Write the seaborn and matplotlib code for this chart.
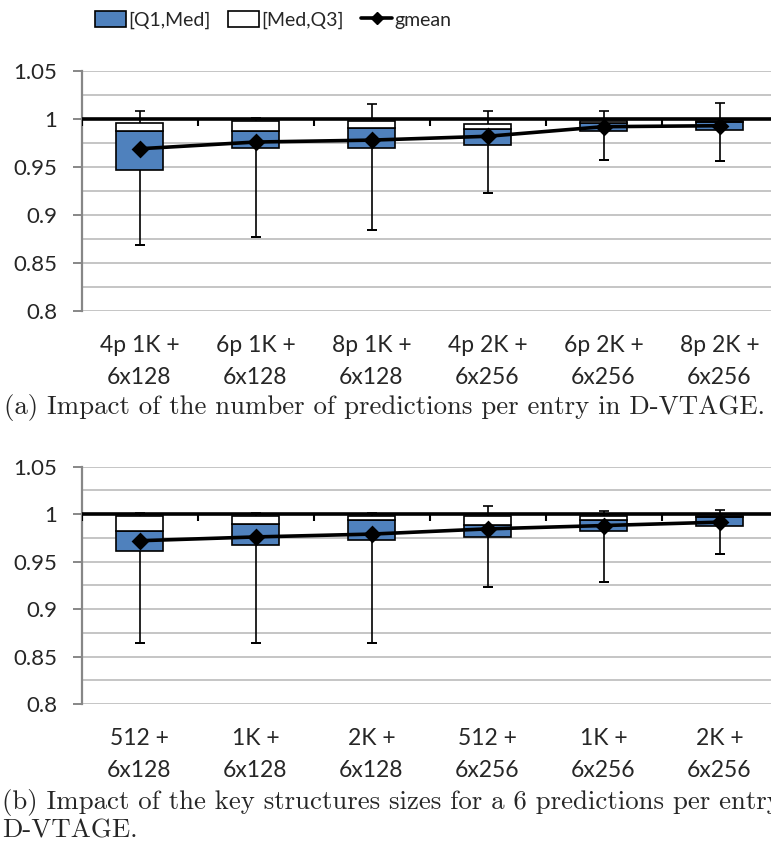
"""Box summary of D-VTAGE speedups: two panels, boxes from stacked bars."""
import seaborn as sns
import matplotlib.pyplot as plt
from matplotlib.patches import Patch
from matplotlib.lines import Line2D
from matplotlib.ticker import MultipleLocator, FuncFormatter

# panel (a): predictions per entry
labels_a = ['4p 1K +\n6x128', '6p 1K +\n6x128', '8p 1K +\n6x128',
            '4p 2K +\n6x256', '6p 2K +\n6x256', '8p 2K +\n6x256']
low_a = [0.869, 0.877, 0.884, 0.923, 0.957, 0.956]
q1_a = [0.947, 0.970, 0.970, 0.973, 0.987, 0.989]
med_a = [0.988, 0.988, 0.991, 0.990, 0.996, 0.9965]
q3_a = [0.9955, 0.9976, 0.9976, 0.9951, 0.9976, 0.9976]
high_a = [1.0087, 1.0014, 1.016, 1.0087, 1.008, 1.0167]
gmean_a = [0.969, 0.976, 0.978, 0.982, 0.992, 0.993]

# panel (b): key structure sizes
labels_b = ['512 +\n6x128', '1K +\n6x128', '2K +\n6x128',
            '512 +\n6x256', '1K +\n6x256', '2K +\n6x256']
low_b = [0.864, 0.864, 0.864, 0.923, 0.929, 0.958]
q1_b = [0.961, 0.968, 0.973, 0.976, 0.982, 0.988]
med_b = [0.982, 0.990, 0.994, 0.989, 0.994, 0.9965]
q3_b = [0.998, 0.998, 0.998, 0.998, 0.998, 0.998]
high_b = [1.0017, 1.0017, 1.0017, 1.0087, 1.0035, 1.0045]
gmean_b = [0.972, 0.976, 0.979, 0.9845, 0.988, 0.9916]

BLUE = '#4F81BD'
W, H = 771, 849

sns.set_style('white')
plt.rcParams['font.family'] = ['Lato', 'DejaVu Sans']


def panel(ax, labels, low, q1, med, q3, high, gmean):
    """Draw one panel of boxes, whiskers and the gmean line."""
    x = list(range(len(labels)))
    ax.errorbar(x, low, yerr=[[0] * len(x), [h - l for h, l in zip(high, low)]],
                fmt='none', ecolor='black', elinewidth=1.2, capsize=3.6,
                capthick=1.2, zorder=1)
    # the lower cap
    ax.errorbar(x, low, yerr=[[0] * len(x), [0] * len(x)], fmt='none',
                ecolor='black', capsize=3.6, capthick=1.2, zorder=1)
    sns.barplot(x=labels, y=[m - q for m, q in zip(med, q1)], bottom=q1,
                color=BLUE, saturation=1, edgecolor='black', linewidth=1.2,
                width=0.4, ax=ax, zorder=2)
    sns.barplot(x=labels, y=[t - m for t, m in zip(q3, med)], bottom=med,
                color='white', saturation=1, edgecolor='black', linewidth=1.2,
                width=0.4, ax=ax, zorder=2)
    ax.axhline(1.0, color='black', lw=2.6, zorder=3)
    ax.vlines([i - 0.5 for i in range(len(labels))], 0.9925, 1.0,
              color='black', lw=1.5, zorder=3)
    sns.pointplot(x=labels, y=gmean, color='black', markers='D',
                  markersize=7, linewidth=2.6, errorbar=None, ax=ax, zorder=4)

    ax.set_xlim(-0.5, len(labels) - 0.5)
    ax.set_ylim(0.8, 1.05)
    ax.yaxis.set_major_locator(MultipleLocator(0.05))
    ax.yaxis.set_minor_locator(MultipleLocator(0.025))
    ax.yaxis.set_major_formatter(FuncFormatter(lambda v, p: f'{v:g}'))
    ax.grid(axis='y', which='both', color='#C0C0C0', lw=1.3, zorder=0)
    ax.set_axisbelow(True)
    for s in ['top', 'right', 'bottom']:
        ax.spines[s].set_visible(False)
    ax.spines['left'].set_color('#878787')
    ax.spines['left'].set_linewidth(1.6)
    ax.tick_params(axis='y', which='major', length=6.5, width=1.4,
                   color='#878787', pad=11, labelsize=16, left=True)
    ax.tick_params(axis='y', which='minor', length=0)
    ax.tick_params(axis='x', length=0, pad=17.5, labelsize=16.5)
    for t in ax.get_xticklabels():
        t.set_linespacing(1.65)
    ax.set_xlabel('')
    ax.set_ylabel('')


fig = plt.figure(figsize=(W / 100, H / 100), dpi=100)
ax_a = fig.add_axes([81.5 / W, 1 - 311 / H, 696 / W, 240 / H])
ax_b = fig.add_axes([81.5 / W, 1 - 704 / H, 696 / W, 237.3 / H])

panel(ax_a, labels_a, low_a, q1_a, med_a, q3_a, high_a, gmean_a)
panel(ax_b, labels_b, low_b, q1_b, med_b, q3_b, high_b, gmean_b)

handles = [Patch(facecolor=BLUE, edgecolor='black', lw=1.2),
           Patch(facecolor='white', edgecolor='black', lw=1.2),
           Line2D([], [], color='black', lw=2.6, marker='D', markersize=6)]
fig.legend(handles, ['[Q1,Med]', '[Med,Q3]', 'gmean'], ncol=3, loc='center',
           bbox_to_anchor=(273 / W, 1 - 20 / H), frameon=False, fontsize=14,
           handlelength=1.6, handleheight=0.85, handletextpad=0.1,
           columnspacing=0.9)

cap = dict(family='cmr10', fontsize=19.3)
fig.text(385 / W, 1 - 407 / H,
         '(a) Impact of the number of predictions per entry in D-VTAGE.',
         ha='center', va='center', **cap)
fig.text(2 / W, 1 - 802 / H,
         '(b) Impact of the key structures sizes for a 6 predictions per entry',
         ha='left', va='center', **cap)
fig.text(2 / W, 1 - 831 / H, 'D-VTAGE.', ha='left', va='center', **cap)

fig.savefig('out.png', dpi=100)
